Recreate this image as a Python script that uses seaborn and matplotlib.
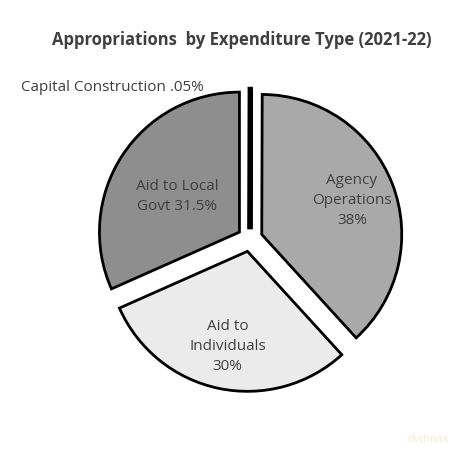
import matplotlib
matplotlib.use("Agg")
import matplotlib.pyplot as plt
import seaborn as sns

# data
categories = ['Capital Construction', 'Agency\nOperations', 'Aid to\nIndividuals', 'Aid to Local\nGovt']
shares = [0.05, 38, 30, 31.5]
share_text = ['.05%', '38%', '30%', '31.5%']
colors = ['#4a4a4a', '#a9a9a9', '#ebebeb', '#8e8e8e']

sns.set_theme(style="white")
plt.rcParams['font.family'] = ['Open Sans', 'DejaVu Sans']

fig = plt.figure(figsize=(4.63, 4.60), dpi=100)
ax = fig.add_axes([40 / 463, 10 / 460, 420 / 463, 420 / 460])

labels = [c + ('\n' if '\n' in c and i != 3 else ' ') + s
          for i, (c, s) in enumerate(zip(categories, share_text))]

wedges, texts = ax.pie(shares, labels=labels, colors=colors,
                       startangle=90, counterclock=False,
                       explode=[0.07, 0.09, 0.09, 0.09],
                       labeldistance=0.69,
                       wedgeprops=dict(edgecolor='black', linewidth=2),
                       textprops=dict(ha='center', va='center', fontsize=11,
                                      color='#3f3f3f', linespacing=1.45))
wedges[0].set_linewidth(3.5)

# small slice gets its label outside, to the left
texts[0].set_position((-0.33, 1.09))
texts[0].set_ha('right')
texts[3].set_position((-0.52, 0.31))

ax.set_xlim(-1.5, 1.5)
ax.set_ylim(-1.5, 1.5)
ax.set_aspect('equal')
ax.axis('off')

fig.text(242 / 463, 1 - 40 / 460, 'Appropriations  by Expenditure Type (2021-22)',
         ha='center', va='center', fontsize=12, fontweight='bold', color='#3f3f3f')
fig.text(0.97, 0.045, 'dvdmax', ha='right', va='center', fontsize=8, color='#f3ead0')

fig.savefig('out.png', dpi=100, facecolor='white')
